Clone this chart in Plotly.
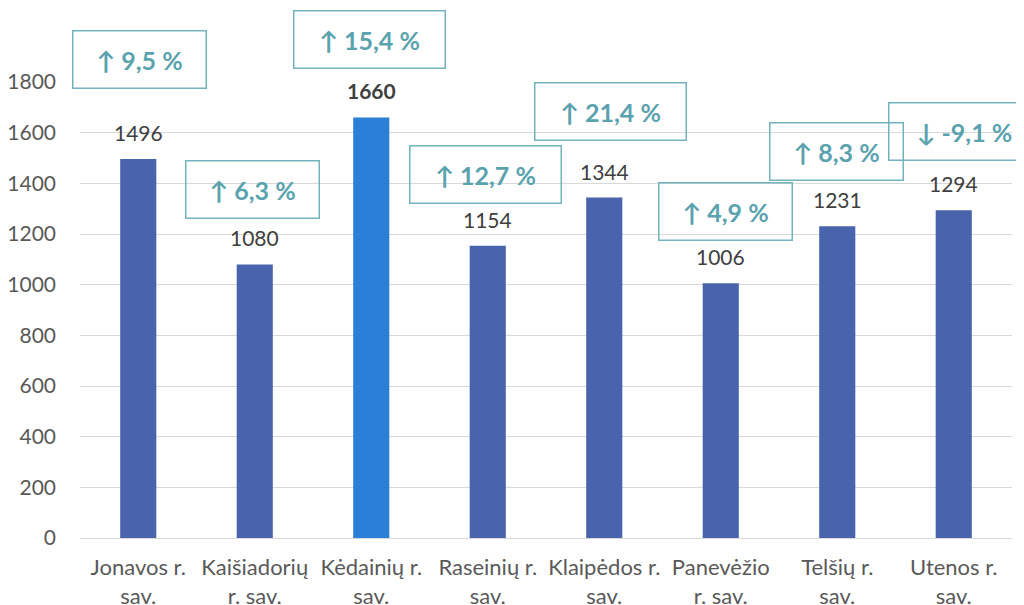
import plotly.graph_objects as go

categories = ["Jonavos r.<br>sav.", "Kaišiadorių<br>r. sav.", "Kėdainių r.<br>sav.", "Raseinių r.<br>sav.",
              "Klaipėdos r.<br>sav.", "Panevėžio<br>r. sav.", "Telšių r.<br>sav.", "Utenos r.<br>sav."]
values = [1496, 1080, 1660, 1154, 1344, 1006, 1231, 1294]
changes = ["↑ 9,5 %", "↑ 6,3 %", "↑ 15,4 %", "↑ 12,7 %", "↑ 21,4 %", "↑ 4,9 %", "↑ 8,3 %", "↓ -9,1 %"]
change_y = [1887, 1374, 1966, 1433, 1685, 1287, 1524, 1603]
change_xshift = [1, -2, -2, -2, 6, 5, -1, 11]
highlight = "Kėdainių r.<br>sav."
y_max = 1800

FONT = "Lato"
bar_colors = ["#2A7FD6" if c == highlight else "#4964AD" for c in categories]

fig = go.Figure()
fig.add_trace(go.Bar(x=categories, y=values, marker=dict(color=bar_colors, line=dict(width=0)),
                     width=0.31, hoverinfo="x+y"))

for c, v in zip(categories, values):
    bold = c == highlight
    fig.add_annotation(x=c, y=v, text=f"<b>{v}</b>" if bold else str(v), showarrow=False,
                       yanchor="bottom", yshift=12,
                       font=dict(family=FONT, size=21, color="#404040"))

for c, t, y, xs in zip(categories, changes, change_y, change_xshift):
    fig.add_annotation(x=c, y=y / y_max, yref="paper", text=f"<b>{t}</b>", showarrow=False, xshift=xs,
                       xanchor="center", yanchor="middle",
                       width=104 if len(t) <= 7 else 122, height=28,
                       font=dict(family=FONT, size=25, color="#5AA3AE"),
                       bordercolor="#72B3BD", borderwidth=1.5, borderpad=14,
                       bgcolor="rgba(255,255,255,0)")

fig.update_layout(
    width=1016, height=597,
    margin=dict(l=72, r=12, t=74, b=67, autoexpand=False),
    paper_bgcolor="white", plot_bgcolor="white",
    showlegend=False,
    font=dict(family=FONT, size=21, color="#595959"),
    xaxis=dict(range=[-0.5, len(categories) - 0.5], showgrid=False, showline=True,
               linecolor="#D9D9D9", linewidth=1, automargin=False, ticklabelstandoff=10,
               ticks="", tickfont=dict(family=FONT, size=22, color="#595959")),
    yaxis=dict(range=[0, y_max], dtick=200, showgrid=True, gridcolor="#D9D9D9", gridwidth=1,
               zeroline=False, showline=False, ticks="", ticklabelstandoff=23, automargin=False,
               tickfont=dict(family=FONT, size=21, color="#595959")),
)

fig.write_html("out.html")
